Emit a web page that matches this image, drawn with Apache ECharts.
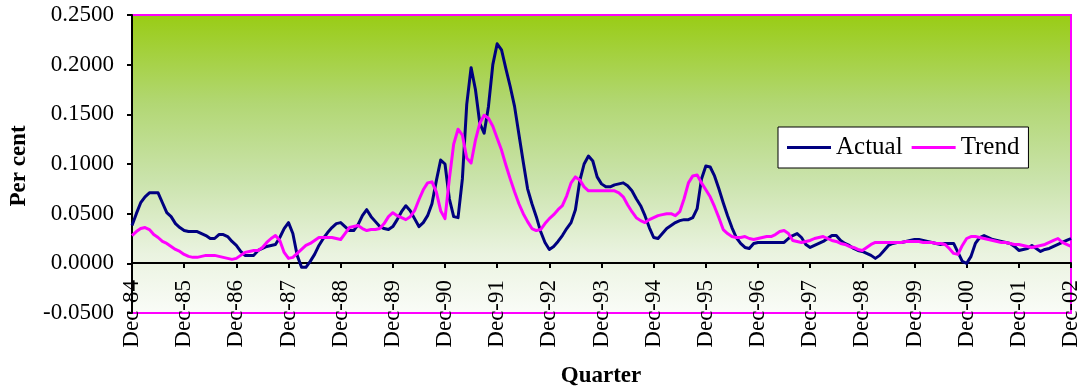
<!DOCTYPE html>
<html>
<head>
<meta charset="utf-8">
<script src="https://cdn.jsdelivr.net/npm/echarts@6/dist/echarts.min.js"></script>
<style>
  html, body { margin: 0; padding: 0; background: #ffffff; }
  #chart { width: 1084px; height: 392px; }
</style>
</head>
<body>
<div id="chart"></div>
<script>
// Monthly categories, Dec-84 through Dec-02 (217 months); only every December is labelled.
const monthNames = ['Jan', 'Feb', 'Mar', 'Apr', 'May', 'Jun', 'Jul', 'Aug', 'Sep', 'Oct', 'Nov', 'Dec'];
const startYear = 1984;
const monthCount = 217;
const categories = [];
for (let k = 0; k < monthCount; k++) {
  const m = (11 + k) % 12;
  const yr = startYear + Math.floor((11 + k) / 12);
  categories.push(monthNames[m] + '-' + String(yr % 100).padStart(2, '0'));
}

// Actual rate (per cent)
const actual = [
  0.038, 0.050, 0.061, 0.067, 0.071, 0.071, 0.071, 0.061, 0.051, 0.047,
  0.040, 0.036, 0.033, 0.032, 0.032, 0.032, 0.030, 0.028, 0.025, 0.025,
  0.029, 0.029, 0.027, 0.022, 0.018, 0.012, 0.008, 0.008, 0.008, 0.013,
  0.015, 0.017, 0.018, 0.019, 0.026, 0.035, 0.041, 0.030, 0.008, -0.004,
  -0.004, 0.002, 0.009, 0.018, 0.025, 0.031, 0.036, 0.040, 0.041, 0.037,
  0.033, 0.033, 0.039, 0.048, 0.054, 0.047, 0.042, 0.037, 0.035, 0.034,
  0.037, 0.044, 0.052, 0.058, 0.053, 0.045, 0.037, 0.041, 0.048, 0.060,
  0.083, 0.104, 0.100, 0.065, 0.047, 0.046, 0.085, 0.160, 0.197, 0.175,
  0.141, 0.131, 0.158, 0.200, 0.221, 0.215, 0.196, 0.178, 0.158, 0.130,
  0.102, 0.075, 0.060, 0.047, 0.032, 0.021, 0.014, 0.017, 0.022, 0.028,
  0.035, 0.041, 0.054, 0.083, 0.100, 0.108, 0.103, 0.087, 0.080, 0.077,
  0.077, 0.079, 0.080, 0.081, 0.078, 0.073, 0.065, 0.058, 0.048, 0.036,
  0.026, 0.025, 0.030, 0.035, 0.038, 0.041, 0.043, 0.044, 0.044, 0.046,
  0.055, 0.085, 0.098, 0.097, 0.088, 0.075, 0.061, 0.048, 0.036, 0.026,
  0.020, 0.016, 0.015, 0.020, 0.021, 0.021, 0.021, 0.021, 0.021, 0.021,
  0.021, 0.025, 0.028, 0.030, 0.026, 0.019, 0.016, 0.018, 0.020, 0.022,
  0.025, 0.028, 0.028, 0.023, 0.020, 0.018, 0.015, 0.013, 0.012, 0.010,
  0.008, 0.005, 0.008, 0.013, 0.018, 0.020, 0.021, 0.021, 0.022, 0.023,
  0.024, 0.024, 0.023, 0.022, 0.021, 0.020, 0.019, 0.020, 0.020, 0.020,
  0.011, 0.002, 0.000, 0.007, 0.020, 0.026, 0.028, 0.026, 0.024, 0.023,
  0.022, 0.021, 0.020, 0.017, 0.013, 0.014, 0.015, 0.018, 0.015, 0.012,
  0.014, 0.015, 0.017, 0.019, 0.021, 0.023, 0.025
];

// Trend rate (per cent)
const trend = [
  0.028, 0.032, 0.035, 0.036, 0.034, 0.029, 0.026, 0.022, 0.020, 0.017,
  0.014, 0.012, 0.009, 0.007, 0.006, 0.006, 0.007, 0.008, 0.008, 0.008,
  0.007, 0.006, 0.005, 0.004, 0.005, 0.008, 0.011, 0.012, 0.013, 0.013,
  0.016, 0.021, 0.025, 0.028, 0.023, 0.011, 0.005, 0.006, 0.010, 0.014,
  0.018, 0.020, 0.023, 0.026, 0.026, 0.026, 0.026, 0.025, 0.024, 0.030,
  0.036, 0.037, 0.038, 0.035, 0.033, 0.034, 0.034, 0.035, 0.040, 0.047,
  0.051, 0.048, 0.046, 0.044, 0.047, 0.053, 0.064, 0.074, 0.081, 0.082,
  0.072, 0.053, 0.045, 0.085, 0.120, 0.135, 0.129, 0.106, 0.101, 0.124,
  0.141, 0.149, 0.146, 0.138, 0.126, 0.114, 0.099, 0.085, 0.072, 0.060,
  0.050, 0.042, 0.035, 0.033, 0.034, 0.040, 0.045, 0.049, 0.054, 0.058,
  0.068, 0.081, 0.087, 0.084, 0.077, 0.073, 0.073, 0.073, 0.073, 0.073,
  0.073, 0.073, 0.071, 0.067, 0.059, 0.052, 0.046, 0.043, 0.041, 0.044,
  0.046, 0.048, 0.049, 0.050, 0.050, 0.048, 0.052, 0.065, 0.081, 0.088,
  0.089, 0.081, 0.074, 0.067, 0.057, 0.046, 0.034, 0.030, 0.027, 0.026,
  0.026, 0.027, 0.025, 0.024, 0.025, 0.026, 0.027, 0.027, 0.029, 0.032,
  0.033, 0.030, 0.023, 0.022, 0.021, 0.022, 0.023, 0.025, 0.026, 0.027,
  0.025, 0.023, 0.022, 0.020, 0.019, 0.017, 0.016, 0.014, 0.013, 0.016,
  0.019, 0.021, 0.021, 0.021, 0.021, 0.021, 0.021, 0.021, 0.022, 0.022,
  0.022, 0.022, 0.021, 0.021, 0.021, 0.020, 0.020, 0.019, 0.015, 0.010,
  0.009, 0.018, 0.025, 0.027, 0.027, 0.026, 0.025, 0.024, 0.023, 0.022,
  0.021, 0.021, 0.020, 0.019, 0.019, 0.018, 0.017, 0.016, 0.017, 0.018,
  0.019, 0.021, 0.023, 0.025, 0.021, 0.019, 0.017
];

// Value-axis tick settings
const yMin = -0.05;
const yMax = 0.25;
const yStep = 0.05;

const serif = "'Liberation Serif', 'Times New Roman', 'DejaVu Serif', serif";

const chart = echarts.init(document.getElementById('chart'), null, { renderer: 'canvas' });

chart.setOption({
  animation: false,
  backgroundColor: '#ffffff',
  grid: {
    left: 132,
    top: 15,
    right: 13,
    bottom: 79,
    outerBoundsMode: 'none',
    show: true,
    borderColor: '#ff00ff',
    borderWidth: 2,
    backgroundColor: {
      type: 'linear', x: 0, y: 0, x2: 0, y2: 1,
      colorStops: [
        { offset: 0, color: '#99cc14' },
        { offset: 0.3, color: '#b2d774' },
        { offset: 0.55, color: '#cae3ab' },
        { offset: 0.8, color: '#eaf3e0' },
        { offset: 1, color: '#fafcf8' }
      ]
    }
  },
  graphic: [
    {
      type: 'text',
      x: 19,
      y: 166,
      rotation: Math.PI / 2,
      style: {
        text: 'Per cent',
        align: 'center',
        verticalAlign: 'middle',
        font: "bold 23px 'Liberation Serif', 'Times New Roman', serif",
        fill: '#000000'
      }
    },
    {
      type: 'text',
      x: 601,
      y: 376,
      style: {
        text: 'Quarter',
        align: 'center',
        verticalAlign: 'middle',
        font: "bold 23px 'Liberation Serif', 'Times New Roman', serif",
        fill: '#000000'
      }
    }
  ],
  legend: {
    left: 778,
    top: 127,
    orient: 'horizontal',
    backgroundColor: '#ffffff',
    borderColor: '#000000',
    borderWidth: 1,
    borderRadius: 0,
    padding: [8, 9, 8, 9],
    icon: 'rect',
    itemWidth: 44,
    itemHeight: 3,
    itemGap: 9,
    textStyle: { fontFamily: serif, fontSize: 25, color: '#000000' },
    data: ['Actual', 'Trend']
  },
  xAxis: {
    type: 'category',
    data: categories,
    boundaryGap: false,
    position: 'bottom',
    // the category axis sits on the zero line, 50px above the plot's lower edge
    offset: -50,
    axisLine: { onZero: false, lineStyle: { color: '#000000', width: 2 } },
    axisTick: { show: true, interval: 11, length: 5, inside: false, lineStyle: { color: '#000000', width: 2 } },
    axisLabel: {
      interval: 11,
      rotate: 90,
      margin: 17,
      fontFamily: serif,
      fontSize: 23,
      color: '#000000'
    },
    splitLine: { show: false }
  },
  yAxis: {
    type: 'value',
    min: yMin,
    max: yMax,
    interval: yStep,
    axisLine: { show: true, onZero: false, lineStyle: { color: '#000000', width: 2 } },
    axisTick: { show: true, length: 5, lineStyle: { color: '#000000', width: 2 } },
    axisLabel: {
      margin: 18,
      fontFamily: serif,
      fontSize: 23,
      color: '#000000',
      formatter: function (v) {
        const r = Math.abs(v) < 1e-9 ? 0 : v;
        return r.toFixed(4);
      }
    },
    splitLine: { show: false }
  },
  series: [
    {
      name: 'Actual',
      type: 'line',
      data: actual,
      symbol: 'none',
      lineStyle: { color: '#000080', width: 3, join: 'round' },
      itemStyle: { color: '#000080' },
      z: 3
    },
    {
      name: 'Trend',
      type: 'line',
      data: trend,
      symbol: 'none',
      lineStyle: { color: '#ff00ff', width: 3, join: 'round' },
      itemStyle: { color: '#ff00ff' },
      z: 4
    }
  ]
});
</script>
</body>
</html>
